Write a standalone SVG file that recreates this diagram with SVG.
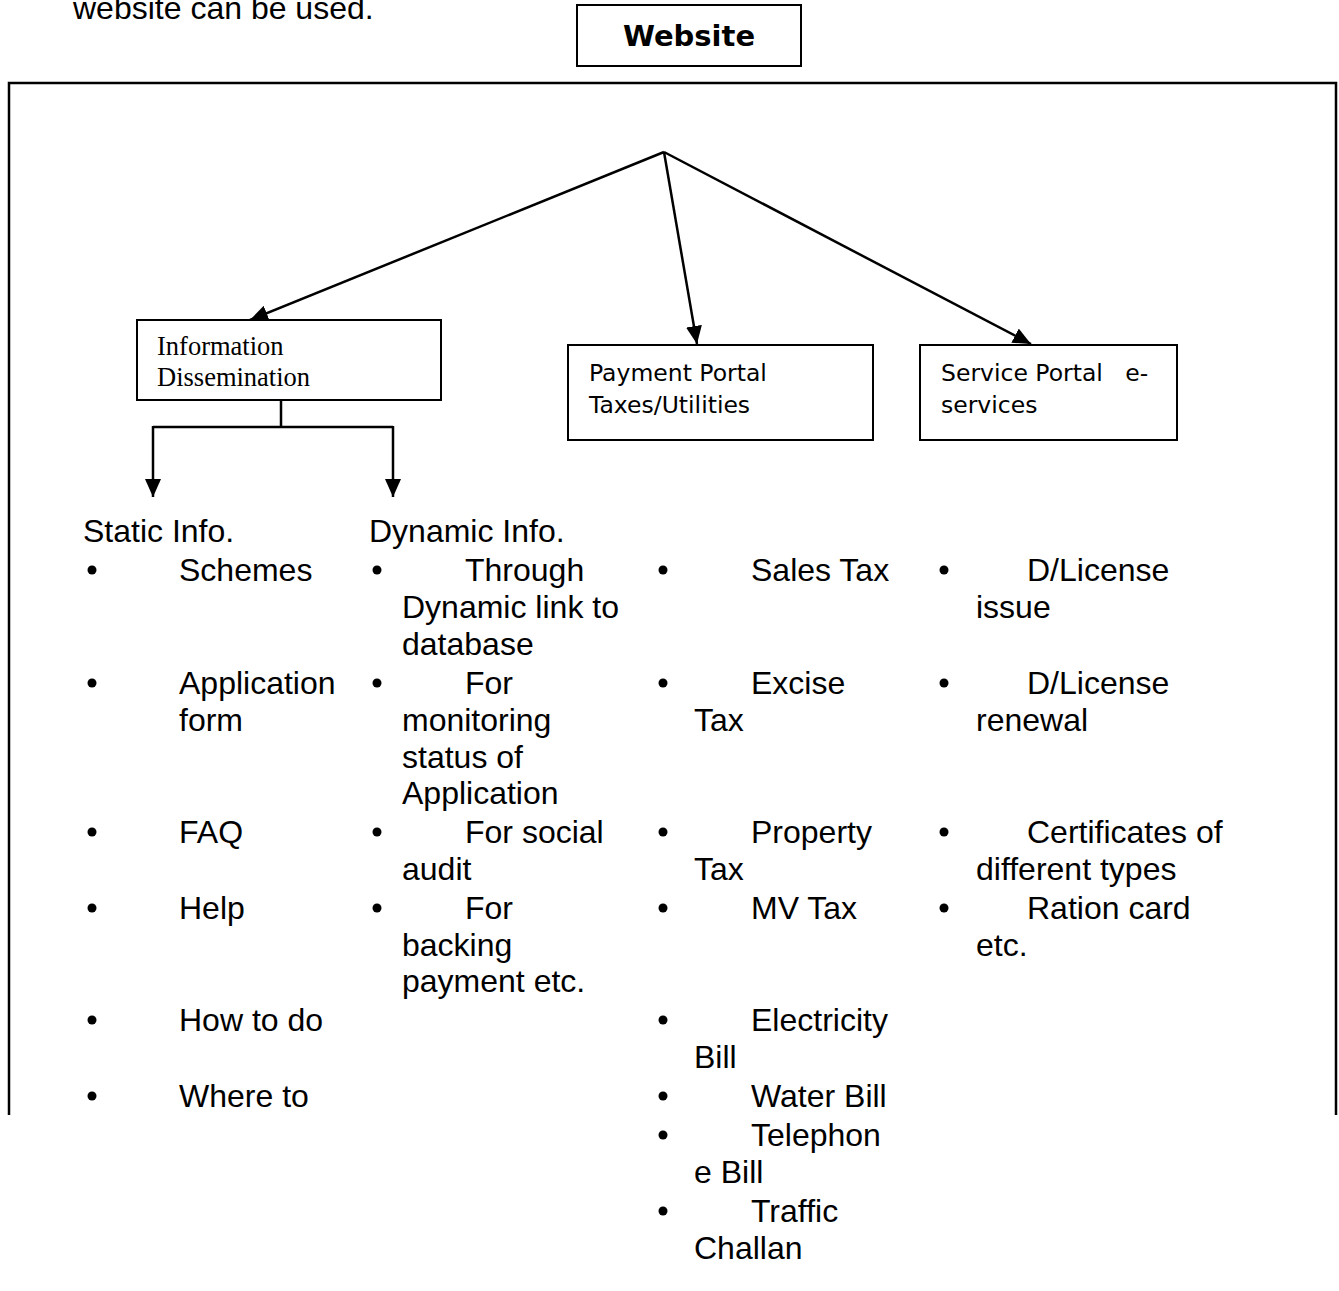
<svg xmlns="http://www.w3.org/2000/svg" width="1339" height="1291" viewBox="0 0 1339 1291">
<style>
.ln{stroke:#000;stroke-width:2.5;fill:none}
.box{stroke:#000;stroke-width:2;fill:#fff}
.t{font-family:"Liberation Sans",Arial,sans-serif;font-size:32px;fill:#000}
.v{font-family:"DejaVu Sans",Verdana,sans-serif;font-size:23.5px;fill:#000}
.tm{font-family:"Liberation Serif","Times New Roman",serif;font-size:26.5px;fill:#000}
.b{fill:#000}
</style>
<defs>
<marker id="ah" viewBox="0 0 18 16" refX="18" refY="8" markerWidth="18" markerHeight="16" markerUnits="userSpaceOnUse" orient="auto">
<path d="M0,0 L18,8 L0,16 Z" fill="#000"/>
</marker>
</defs>
<rect width="1339" height="1291" fill="#fff"/>
<text class="t" x="73" y="19">website can be used.</text>
<g id="frame"><path class="ln" d="M9,1115 V83 H1336 V1115"/></g>
<g id="website"><rect class="box" x="577" y="5" width="224" height="61"/>
<text x="689" y="46" text-anchor="middle" style="font-family:'DejaVu Sans',Verdana,sans-serif;font-size:29px;font-weight:bold">Website</text></g>
<g id="connectors">
<line class="ln" x1="664" y1="152" x2="250" y2="320" marker-end="url(#ah)"/>
<line class="ln" x1="664" y1="152" x2="697" y2="344" marker-end="url(#ah)"/>
<line class="ln" x1="664" y1="152" x2="1031" y2="344" marker-end="url(#ah)"/>
<path class="ln" d="M281,401 V427 M153,427 H393"/>
<line class="ln" x1="153" y1="426" x2="153" y2="497" marker-end="url(#ah)"/>
<line class="ln" x1="393" y1="426" x2="393" y2="497" marker-end="url(#ah)"/>
</g>
<g id="info"><rect class="box" x="137" y="320" width="304" height="80"/>
<text class="tm" x="157" y="355">Information</text><text class="tm" x="157" y="386">Dissemination</text></g>
<g id="payment"><rect class="box" x="568" y="345" width="305" height="95"/>
<text class="v" x="589" y="381">Payment Portal</text><text class="v" x="589" y="413">Taxes/Utilities</text></g>
<g id="service"><rect class="box" x="920" y="345" width="257" height="95"/>
<text class="v" x="941" y="381" xml:space="preserve">Service Portal   e-</text><text class="v" x="941" y="413">services</text></g>
<g id="static">
<text class="t" x="83" y="542">Static Info.</text>
<circle class="b" cx="92" cy="570" r="4.5"/><text class="t" x="179" y="581">Schemes</text>
<circle class="b" cx="92" cy="683" r="4.5"/><text class="t" x="179" y="694">Application</text><text class="t" x="179" y="731">form</text>
<circle class="b" cx="92" cy="832" r="4.5"/><text class="t" x="179" y="843">FAQ</text>
<circle class="b" cx="92" cy="908" r="4.5"/><text class="t" x="179" y="919">Help</text>
<circle class="b" cx="92" cy="1020" r="4.5"/><text class="t" x="179" y="1031">How to do</text>
<circle class="b" cx="92" cy="1096" r="4.5"/><text class="t" x="179" y="1107">Where to</text>
</g>
<g id="dynamic">
<text class="t" x="369" y="542">Dynamic Info.</text>
<circle class="b" cx="377" cy="570" r="4.5"/><text class="t" x="465" y="581">Through</text><text class="t" x="402" y="618">Dynamic link to</text><text class="t" x="402" y="655">database</text>
<circle class="b" cx="377" cy="683" r="4.5"/><text class="t" x="465" y="694">For</text><text class="t" x="402" y="731">monitoring</text><text class="t" x="402" y="768">status of</text><text class="t" x="402" y="804">Application</text>
<circle class="b" cx="377" cy="832" r="4.5"/><text class="t" x="465" y="843">For social</text><text class="t" x="402" y="880">audit</text>
<circle class="b" cx="377" cy="908" r="4.5"/><text class="t" x="465" y="919">For</text><text class="t" x="402" y="956">backing</text><text class="t" x="402" y="992">payment etc.</text>
</g>
<g id="payment-list">
<circle class="b" cx="663" cy="570" r="4.5"/><text class="t" x="751" y="581">Sales Tax</text>
<circle class="b" cx="663" cy="683" r="4.5"/><text class="t" x="751" y="694">Excise</text><text class="t" x="694" y="731">Tax</text>
<circle class="b" cx="663" cy="832" r="4.5"/><text class="t" x="751" y="843">Property</text><text class="t" x="694" y="880">Tax</text>
<circle class="b" cx="663" cy="908" r="4.5"/><text class="t" x="751" y="919">MV Tax</text>
<circle class="b" cx="663" cy="1020" r="4.5"/><text class="t" x="751" y="1031">Electricity</text><text class="t" x="694" y="1068">Bill</text>
<circle class="b" cx="663" cy="1096" r="4.5"/><text class="t" x="751" y="1107">Water Bill</text>
<circle class="b" cx="663" cy="1135" r="4.5"/><text class="t" x="751" y="1146">Telephon</text><text class="t" x="694" y="1183">e Bill</text>
<circle class="b" cx="663" cy="1211" r="4.5"/><text class="t" x="751" y="1222">Traffic</text><text class="t" x="694" y="1259">Challan</text>
</g>
<g id="service-list">
<circle class="b" cx="944" cy="570" r="4.5"/><text class="t" x="1027" y="581">D/License</text><text class="t" x="976" y="618">issue</text>
<circle class="b" cx="944" cy="683" r="4.5"/><text class="t" x="1027" y="694">D/License</text><text class="t" x="976" y="731">renewal</text>
<circle class="b" cx="944" cy="832" r="4.5"/><text class="t" x="1027" y="843">Certificates of</text><text class="t" x="976" y="880">different types</text>
<circle class="b" cx="944" cy="908" r="4.5"/><text class="t" x="1027" y="919">Ration card</text><text class="t" x="976" y="956">etc.</text>
</g>
</svg>
